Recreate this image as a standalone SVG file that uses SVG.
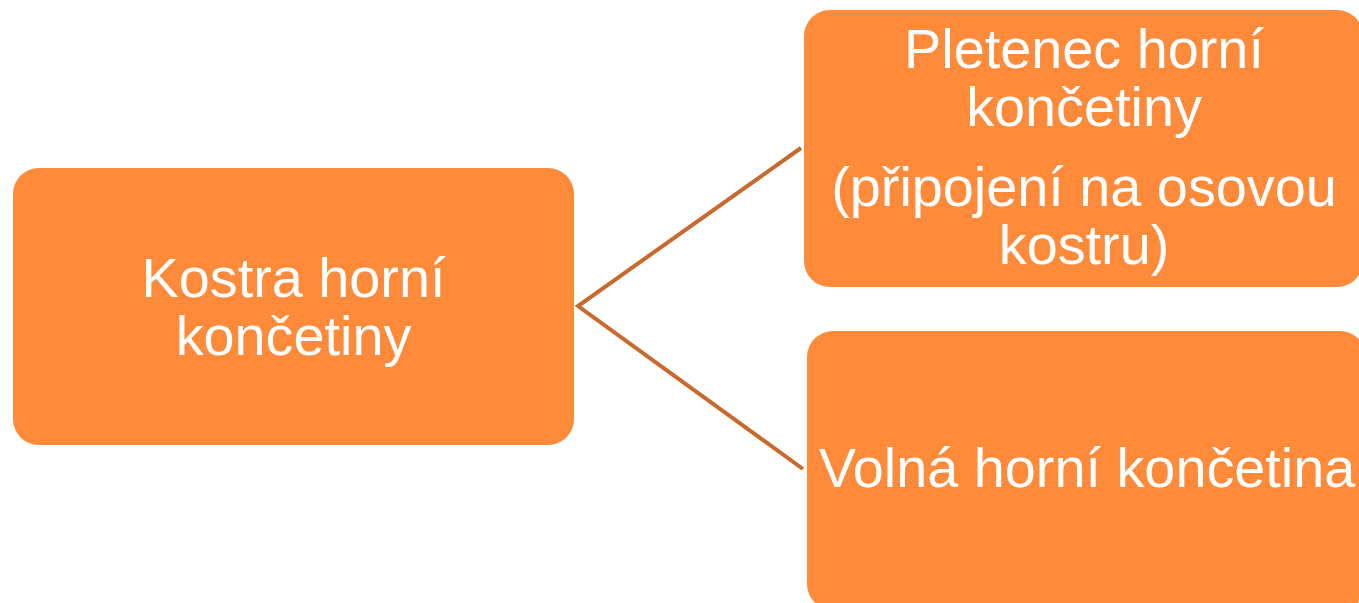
<svg xmlns="http://www.w3.org/2000/svg" width="1359" height="603" viewBox="0 0 1359 603">
<style>
.box{fill:#FE8A3A;}
.lbl{font-family:"Liberation Sans",Arial,sans-serif;font-size:55.8px;fill:#FFFFFF;text-anchor:middle;}
.conn{stroke:#C8692D;stroke-width:4;fill:none;}
</style>
<rect width="1359" height="603" fill="#FFFFFF"/>
<g id="connectors">
<polyline class="conn" points="801,148 578,306 803,469"/>
</g>
<g id="node-root">
<rect class="box" x="13" y="168" width="561" height="277" rx="26"/>
<text class="lbl" x="293.5" y="297">Kostra horní</text>
<text class="lbl" x="293.5" y="355">končetiny</text>
</g>
<g id="node-pletenec">
<rect class="box" x="804" y="10" width="559" height="277" rx="26"/>
<text class="lbl" x="1084" y="68">Pletenec horní</text>
<text class="lbl" x="1084" y="126">končetiny</text>
<text class="lbl" x="1084" y="206">(připojení na osovou</text>
<text class="lbl" x="1084" y="264">kostru)</text>
</g>
<g id="node-volna">
<rect class="box" x="807" y="331" width="559" height="279" rx="26"/>
<text class="lbl" x="1087" y="487">Volná horní končetina</text>
</g>
</svg>
